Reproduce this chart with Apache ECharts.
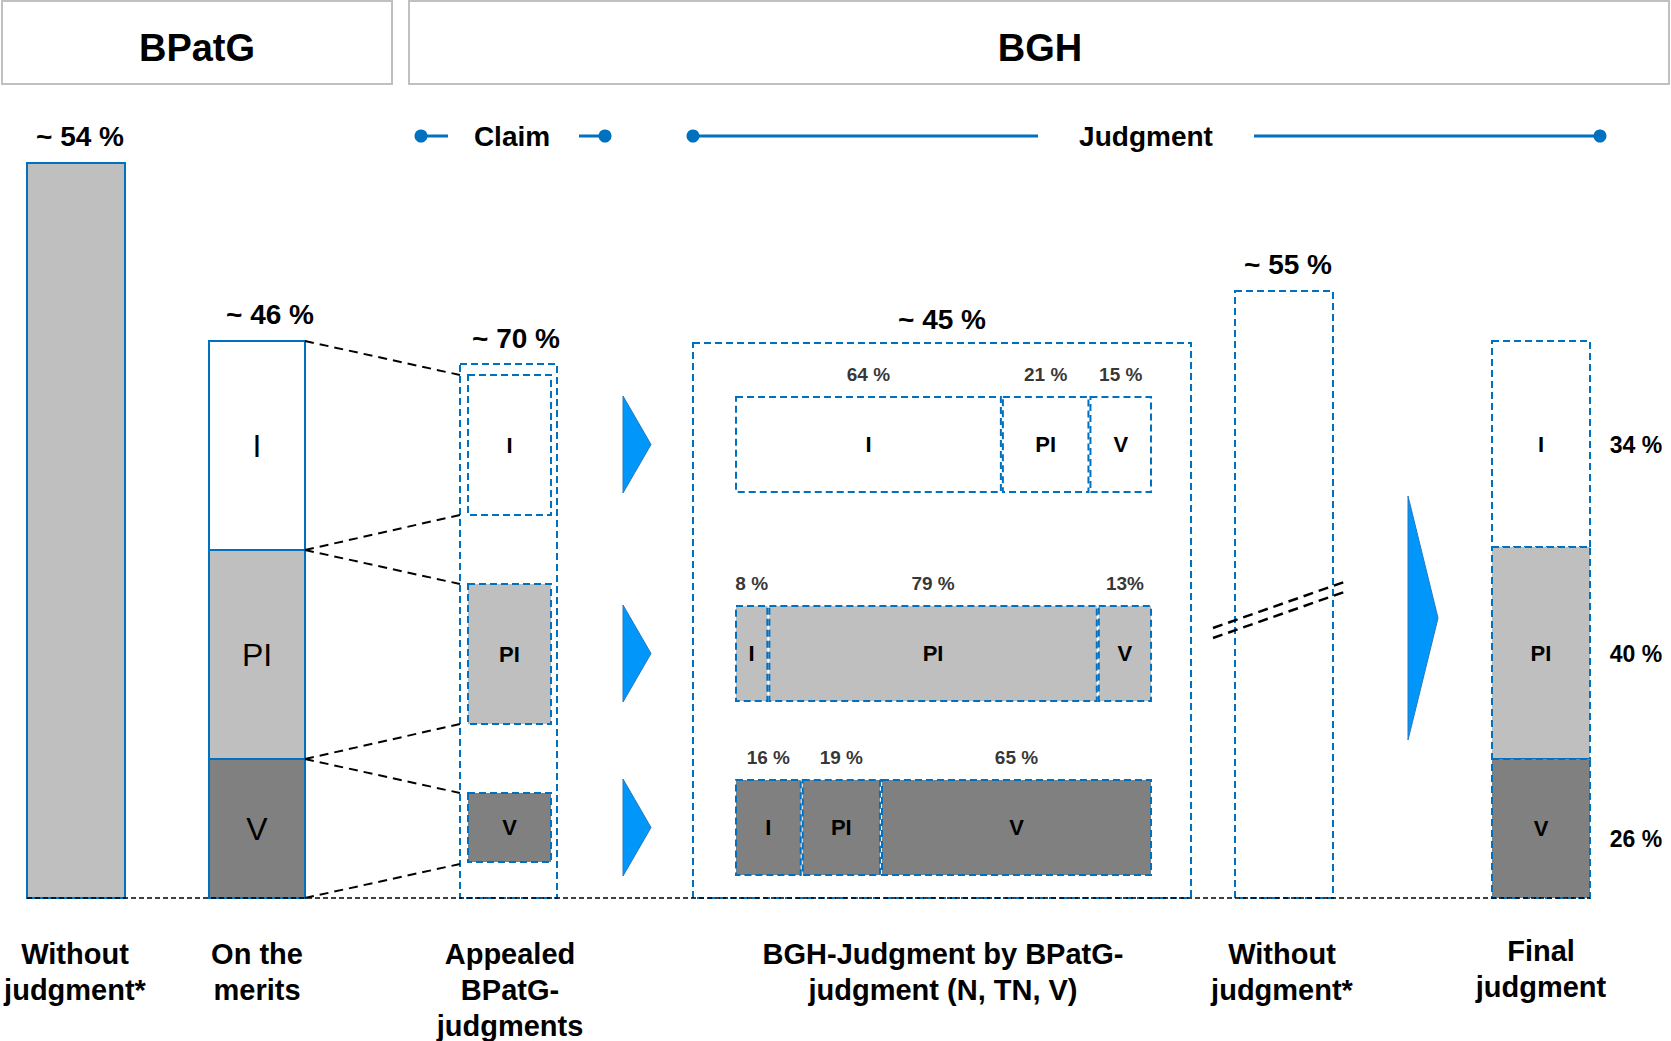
<!DOCTYPE html>
<html>
<head>
<meta charset="utf-8">
<script src="https://cdn.jsdelivr.net/npm/echarts@6/dist/echarts.min.js"></script>
<style>
html, body { margin: 0; padding: 0; background: #fff; }
#container { width: 1671px; height: 1041px; }
</style>
</head>
<body>
<div id="container"></div>
<script>
// ---- data ----
var headers = ['BPatG', 'BGH'];
var timelineLabels = ['Claim', 'Judgment'];
var outcomes = ['I', 'PI', 'V'];
var totalLabels = ['~ 54 %', '~ 46 %', '~ 70 %', '~ 45 %', '~ 55 %'];
var columnNames = [
    'Without\njudgment*',
    'On the\nmerits',
    'Appealed\nBPatG-\njudgments',
    'BGH-Judgment by BPatG-\njudgment (N, TN, V)',
    'Without\njudgment*',
    'Final\njudgment'
];
// BGH outcome split for each appealed BPatG outcome (I, PI, V)
var bghFromI = [64, 21, 15];
var bghFromPI = [8, 79, 13];
var bghFromV = [16, 19, 65];
var bghPctText = [
    ['64 %', '21 %', '15 %'],
    ['8 %', '79 %', '13%'],
    ['16 %', '19 %', '65 %']
];
var finalShares = ['34 %', '40 %', '26 %'];

// ---- layout (pixels) ----
var BLUE = '#0070C0';
var FILL = ['#FFFFFF', '#BFBFBF', '#808080'];
var FONT = '"Liberation Sans", Arial, sans-serif';
var baseY = 898;
var rowTops = [396, 605, 779];
var rowH = 97;
var rowLeft = 735, rowW = 417;

// column rectangles: [x0, y0, x1, y1, fillIndex(-1 none), dashed, label, labelStyle]
var boxes = [
    [27, 163, 125, baseY, 1, false, '', null],
    [209, 341, 305, 550, 0, false, 'I', 'big'],
    [209, 550, 305, 759, 1, false, 'PI', 'big'],
    [209, 759, 305, baseY, 2, false, 'V', 'big'],
    [460, 364, 557, baseY, -1, true, '', null],
    [468, 375, 551, 515, 0, true, 'I', 'small'],
    [468, 584, 551, 724, 1, true, 'PI', 'small'],
    [468, 793, 551, 862, 2, true, 'V', 'small'],
    [693, 343, 1191, baseY, -1, true, '', null],
    [1235, 291, 1333, baseY, -1, true, '', null],
    [1492, 341, 1590, 547, 0, true, 'I', 'small'],
    [1492, 547, 1590, 759, 1, true, 'PI', 'small'],
    [1492, 759, 1590, baseY, 2, true, 'V', 'small']
];
var totalPos = [[80, 136], [270, 314], [516, 338], [942, 319], [1288, 264]];
var colNamePos = [[75, 954], [257, 954], [510, 954], [943, 954], [1282, 954], [1541, 951]];
var finalLabelY = [445, 654, 839];

var dom = document.getElementById('container');
var myChart = echarts.init(dom, null, {renderer: 'svg'});

function rowGrid(i) {
    return {left: rowLeft, top: rowTops[i], width: rowW, height: rowH, show: false};
}

var rows = [bghFromI, bghFromPI, bghFromV];
var grids = [{left: 0, top: 0, right: 0, bottom: 0, show: false}];
var xAxes = [{type: 'value', min: 0, max: 1671, show: false, gridIndex: 0}];
var yAxes = [{type: 'value', min: 0, max: 1041, inverse: true, show: false, gridIndex: 0}];
var series = [];

// main columns
series.push({
    type: 'custom',
    xAxisIndex: 0,
    yAxisIndex: 0,
    clip: false,
    data: boxes.map(function (b, i) { return [b[0], b[1], b[2], b[3], i]; }),
    renderItem: function (params, api) {
        var b = boxes[params.dataIndex];
        var p0 = api.coord([api.value(0), api.value(1)]);
        var p1 = api.coord([api.value(2), api.value(3)]);
        var el = {
            type: 'rect',
            shape: {x: p0[0], y: p0[1], width: p1[0] - p0[0], height: p1[1] - p0[1]},
            style: {
                fill: b[4] < 0 ? 'none' : FILL[b[4]],
                stroke: BLUE,
                lineWidth: 2,
                lineDash: b[5] ? [7, 4] : null
            }
        };
        if (b[6]) {
            el.textContent = {
                style: {
                    text: b[6],
                    fontFamily: FONT,
                    fontSize: b[7] === 'big' ? 32 : 22,
                    fontWeight: b[7] === 'big' ? 'normal' : 'bold',
                    fill: '#000'
                }
            };
            el.textConfig = {position: 'inside'};
        }
        return el;
    },
    z: 3
});

// the three BGH rows as horizontal stacked bars
rows.forEach(function (vals, r) {
    grids.push(rowGrid(r));
    xAxes.push({type: 'value', min: 0, max: 100, show: false, gridIndex: r + 1});
    yAxes.push({type: 'category', data: ['row'], show: false, gridIndex: r + 1});
    var cum = 0;
    var mids = [];
    vals.forEach(function (v, k) {
        mids.push([cum + v / 2, 'row', k]);
        cum += v;
        series.push({
            type: 'bar',
            name: outcomes[k],
            xAxisIndex: r + 1,
            yAxisIndex: r + 1,
            stack: 'row' + r,
            barCategoryGap: '0%',
            data: [v],
            itemStyle: {
                color: FILL[r],
                borderColor: BLUE,
                borderWidth: 2,
                borderType: [7, 4]
            },
            label: {
                show: true,
                position: 'inside',
                formatter: outcomes[k],
                fontFamily: FONT,
                fontSize: 22,
                fontWeight: 'bold',
                color: '#000'
            },
            silent: true,
            z: 4
        });
    });
    series.push({
        type: 'scatter',
        xAxisIndex: r + 1,
        yAxisIndex: r + 1,
        symbolSize: 0,
        data: mids,
        label: {
            show: true,
            position: 'inside',
            offset: [0, -70],
            formatter: function (p) { return bghPctText[r][p.data[2]]; },
            fontFamily: FONT,
            fontSize: 19,
            fontWeight: 'bold',
            color: '#000'
        },
        silent: true,
        z: 5
    });
});

// decorative shapes and texts
var graphic = [];
function txt(x, y, s, size, weight, align) {
    graphic.push({
        type: 'text', x: x, y: y, z: 10,
        style: {
            text: s, fontFamily: FONT, fontSize: size, fontWeight: weight || 'bold',
            fill: '#000', align: align || 'center', verticalAlign: 'middle',
            lineHeight: 36
        }
    });
}
function dashLine(x1, y1, x2, y2, dash, w, color) {
    graphic.push({
        type: 'line', z: 6,
        shape: {x1: x1, y1: y1, x2: x2, y2: y2},
        style: {stroke: color || '#000', lineWidth: w || 2, lineDash: dash}
    });
}
function arrow(x0, y0, x1, y1) {
    graphic.push({
        type: 'polygon', z: 6,
        shape: {points: [[x0, y0], [x1, (y0 + y1) / 2], [x0, y1]]},
        style: {fill: '#0096FA', stroke: '#2878C0', lineWidth: 1}
    });
}

// header boxes
graphic.push({type: 'rect', shape: {x: 2, y: 1, width: 390, height: 83},
    style: {fill: '#fff', stroke: '#C0C0C0', lineWidth: 2}});
graphic.push({type: 'rect', shape: {x: 409, y: 1, width: 1260, height: 83},
    style: {fill: '#fff', stroke: '#C0C0C0', lineWidth: 2}});
txt(197, 48, headers[0], 38);
txt(1040, 48, headers[1], 38);

// timeline
var tlY = 136;
[[421, 448], [579, 605], [693, 1038], [1254, 1600]].forEach(function (seg) {
    graphic.push({type: 'line', shape: {x1: seg[0], y1: tlY, x2: seg[1], y2: tlY},
        style: {stroke: BLUE, lineWidth: 3}});
});
[421, 605, 693, 1600].forEach(function (cx) {
    graphic.push({type: 'circle', shape: {cx: cx, cy: tlY, r: 6.5}, style: {fill: BLUE}});
});
txt(512, tlY, timelineLabels[0], 28);
txt(1146, tlY, timelineLabels[1], 28);

// totals above columns
totalLabels.forEach(function (t, i) { txt(totalPos[i][0], totalPos[i][1], t, 28); });

// final shares on the right
finalShares.forEach(function (t, i) { txt(1636, finalLabelY[i], t, 23); });

// bottom dashed baseline
dashLine(27, baseY, 1590, baseY, [5, 3], 1.6);

// connectors from "On the merits" to appealed judgments
[[341, 375], [550, 515], [550, 584], [759, 724], [759, 793], [baseY, 864]].forEach(function (c) {
    dashLine(305, c[0], 460, c[1], [9, 6], 2);
});

// break marks across the "without judgment" bar
dashLine(1213, 628, 1347, 581, [10, 6], 2.5);
dashLine(1213, 638, 1347, 591, [10, 6], 2.5);

// arrows
rowTops.forEach(function (t) { arrow(623, t, 651, t + rowH); });
arrow(1408, 496, 1438, 740);

// column names
columnNames.forEach(function (n, i) {
    graphic.push({
        type: 'text', x: colNamePos[i][0], y: colNamePos[i][1] - 18, z: 10,
        style: {
            text: n, fontFamily: FONT, fontSize: 29, fontWeight: 'bold',
            fill: '#000', align: 'center', verticalAlign: 'top', lineHeight: 36
        }
    });
});

var option = {
    animation: false,
    grid: grids,
    xAxis: xAxes,
    yAxis: yAxes,
    series: series,
    graphic: graphic
};

if (option && typeof option === 'object') {
    myChart.setOption(option);
}
</script>
</body>
</html>
